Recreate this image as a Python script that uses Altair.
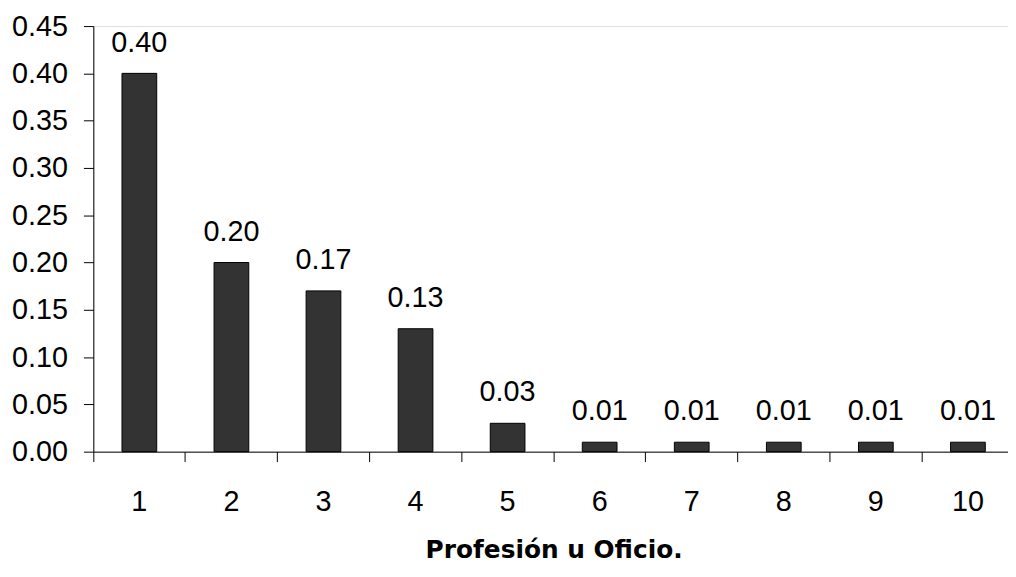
import altair as alt
import pandas as pd

categories = ["1", "2", "3", "4", "5", "6", "7", "8", "9", "10"]
values = [0.40, 0.20, 0.17, 0.13, 0.03, 0.01, 0.01, 0.01, 0.01, 0.01]
y_ticks = [0.0, 0.05, 0.10, 0.15, 0.20, 0.25, 0.30, 0.35, 0.40, 0.45]

df = pd.DataFrame({"cat": categories, "val": values})

FONT = "Liberation Sans, Arial, sans-serif"

x = alt.X("cat:N", sort=categories,
          scale=alt.Scale(paddingInner=0, paddingOuter=0),
          axis=alt.Axis(title="Profesión u Oficio.", labelAngle=0, bandPosition=0,
                        labelFont=FONT, labelFontSize=29, labelColor="black",
                        labelPadding=26, tickSize=10, tickColor="black",
                        domainColor="black", titleFont="DejaVu Sans",
                        titleFontSize=25, titleFontWeight="bold", titleColor="black",
                        titlePadding=22, labelBound=False))
y = alt.Y("val:Q", scale=alt.Scale(domain=[0, 0.45], nice=False),
          axis=alt.Axis(title=None, values=y_ticks, format=".2f", grid=False,
                        labelFont=FONT, labelFontSize=29, labelColor="black",
                        labelPadding=16, tickSize=10, tickColor="black",
                        domainColor="black"))

bars = alt.Chart(df).mark_bar(size=35, color="#333333", stroke="black",
                              strokeWidth=1).encode(x=x, y=y)
labels = alt.Chart(df).mark_text(baseline="bottom", dy=-16, font=FONT,
                                 fontSize=29, color="black").encode(
    x=alt.X("cat:N", sort=categories), y="val:Q",
    text=alt.Text("val:Q", format=".2f"))

chart = (bars + labels).properties(
    width=928, height=429,
    autosize=alt.AutoSizeParams(type="none"),
    padding={"left": 86, "top": 16, "right": -6, "bottom": 110},
).configure_view(stroke=None).configure(background="white")

chart.save("out.html", embed_options={"renderer": "svg", "actions": False})
